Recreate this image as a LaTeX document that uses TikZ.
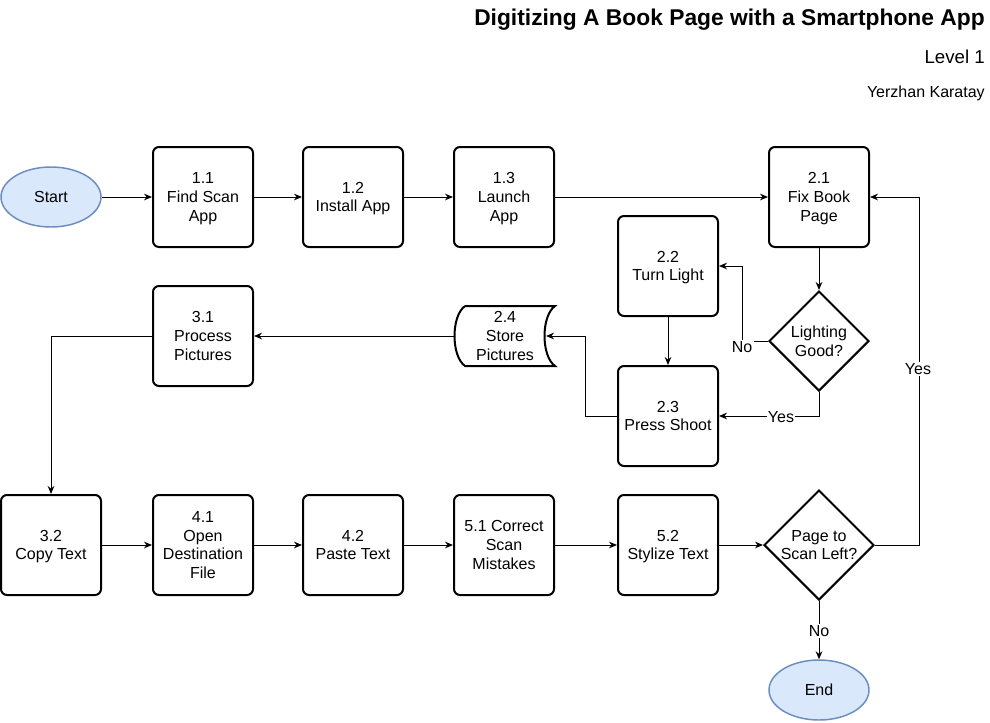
\documentclass[tikz,border=0pt]{standalone}
\usepackage{fontspec}
\setmainfont{Liberation Sans}
\usetikzlibrary{shapes.geometric,arrows.meta}
\definecolor{termfill}{HTML}{DAE8FC}
\definecolor{termdraw}{HTML}{6C8EBF}
\tikzset{
  proc/.style={draw, line width=1.5pt, rounded corners=4.5pt, rectangle,
    minimum width=75pt, minimum height=75pt, align=center, inner sep=1pt,
    text depth=-0.75pt, font=\fontsize{12}{14}\selectfont},
  term/.style={draw=termdraw, fill=termfill, line width=1.1pt, ellipse,
    minimum width=75pt, minimum height=45pt, inner sep=0pt,
    font=\fontsize{12}{14}\selectfont},
  dec/.style={draw, line width=1.5pt, diamond, inner sep=0pt},
  txt/.style={align=center, inner sep=0pt, text depth=-0.75pt,
    font=\fontsize{12}{14}\selectfont},
  lbl/.style={fill=white, inner sep=1pt, font=\fontsize{12}{14}\selectfont},
  arr/.style={line width=0.75pt, -{Stealth[length=6pt,width=5pt]}},
}
\begin{document}
\begin{tikzpicture}[x=0.75pt,y=-0.75pt]
\useasboundingbox (0,0) rectangle (990,722);
% titles
\node[anchor=east, inner sep=0pt, font=\fontsize{17.1}{20}\selectfont\bfseries] (title) at (985,20) {Digitizing A Book Page with a Smartphone App};
\node[anchor=east, inner sep=0pt, font=\fontsize{14}{16}\selectfont] (level) at (985,57) {Level 1};
\node[anchor=east, inner sep=0pt, font=\fontsize{12}{14}\selectfont] (author) at (985,93) {Yerzhan Karatay};
% nodes
\node[term] (start) at (51,197) {Start};
\node[proc] (p11) at (203,197) {1.1\\Find Scan\\App};
\node[proc] (p12) at (353,197) {1.2\\Install App};
\node[proc] (p13) at (504,197) {1.3\\Launch\\App};
\node[proc] (p21) at (819,197) {2.1\\Fix Book\\Page};
\node[proc] (p22) at (668,266) {2.2\\Turn Light};
\node[dec, minimum width=75pt, minimum height=75pt] (d1) at (819,341) {};
\node[txt] (d1t) at (d1) {Lighting\\Good?};
\node[proc] (p23) at (668,416) {2.3\\Press Shoot};
% stored data shape
\node[minimum width=75pt, minimum height=45pt, inner sep=0pt] (s24) at (505,336) {};
\draw[line width=1.5pt] (465,306) -- (555,306) .. controls (541,316) and (541,356) .. (555,366)
  -- (465,366) .. controls (451,356) and (451,316) .. (465,306);
\node[txt] (s24t) at (s24) {2.4\\Store\\Pictures};
\coordinate (s24in) at (546,336);
\node[proc] (p31) at (203,336) {3.1\\Process\\Pictures};
\node[proc] (p32) at (51,545) {3.2\\Copy Text};
\node[proc] (p41) at (203,545) {4.1\\Open\\Destination\\File};
\node[proc] (p42) at (353,545) {4.2\\Paste Text};
\node[proc] (p51) at (504,545) {5.1 Correct\\Scan\\Mistakes};
\node[proc] (p52) at (668,545) {5.2\\Stylize Text};
\node[dec, minimum width=82.5pt, minimum height=82.5pt] (d2) at (819,545) {};
\node[txt] (d2t) at (d2) {Page to\\Scan Left?};
\node[term] (end) at (819,690) {End};
% connectors
\draw[arr] (start) -- (p11);
\draw[arr] (p11) -- (p12);
\draw[arr] (p12) -- (p13);
\draw[arr] (p13) -- (p21);
\draw[arr] (p21) -- (d1);
\draw[arr] (d1.west) -- (742,341) |- (p22.east);
\node[lbl] (no1) at (742,347) {No};
\draw[arr] (d1.south) |- (p23.east);
\node[lbl] (yes1) at (781,417) {Yes};
\draw[arr] (p22) -- (p23);
\draw[arr] (p23.west) -- (585,416) |- (s24in);
\draw[arr] (s24.west) -- (p31.east);
\draw[arr] (p31.west) -| (p32.north);
\draw[arr] (p32) -- (p41);
\draw[arr] (p41) -- (p42);
\draw[arr] (p42) -- (p51);
\draw[arr] (p51) -- (p52);
\draw[arr] (p52) -- (d2.west);
\draw[arr] (d2.east) -- (919,545) |- (p21.east);
\node[lbl] (yes2) at (918,369) {Yes};
\draw[arr] (d2.south) -- (end.north);
\node[lbl] (no2) at (819,631) {No};
\end{tikzpicture}
\end{document}
